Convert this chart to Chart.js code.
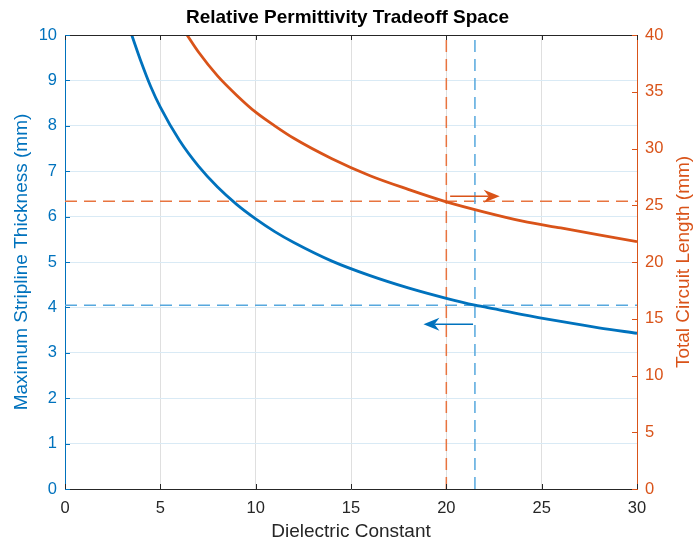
<!DOCTYPE html>
<html>
<head>
<meta charset="utf-8">
<script src="https://cdn.jsdelivr.net/npm/chart.js@4"></script>
<style>
  html, body { margin: 0; padding: 0; background: #fff; }
  canvas { display: block; }
</style>
</head>
<body>
<canvas id="myChart" width="695" height="546"></canvas>
<script>
// dielectric constant vs. stripline thickness (left) and circuit length (right)
const epsThick = [3.5, 4, 4.5, 5, 6, 7, 8, 9, 10, 11, 12, 14, 16, 18, 20, 21.5, 22, 24, 26, 28, 30];
const thickness = [10.0, 9.40, 8.86, 8.41, 7.68, 7.11, 6.65, 6.27, 5.95, 5.67, 5.43, 5.02, 4.70, 4.43, 4.20, 4.05, 4.01, 3.84, 3.69, 3.55, 3.43];

const epsLength = [6.4, 7, 8, 9, 10, 11, 12, 14, 16, 18, 20, 22, 24, 26, 28, 30];
const circuitLen = [40.0, 38.5, 36.4, 34.7, 33.2, 32.0, 30.9, 29.1, 27.6, 26.4, 25.3, 24.4, 23.6, 23.0, 22.4, 21.8];

// design point markers
const thickPick = { x: 21.5, y: 4.05 };
const lengthPick = { x: 20, y: 25.35 };
// arrows: [x from, x to, y]
const thickArrow = [21.4, 18.8, 3.63];
const lengthArrow = [20.2, 22.8, 25.8];

const xTicks = [0, 5, 10, 15, 20, 25, 30];
const rightTitle = 'Total Circuit Length (mm)';

const BLUE = '#0072BD';
const ORANGE = '#D95319';
const DARK = '#262626';
const FONT = "'Liberation Sans', Arial, Helvetica, sans-serif";
const TICK_SIZE = 16.5;
const LABEL_SIZE = 19;

const pts = (xs, ys) => xs.map((x, i) => ({ x: x, y: ys[i] }));

// inward tick marks, top border, right label and arrows
const decor = {
  id: 'decor',
  afterDatasetsDraw(chart) {
    const c = chart.ctx;
    const a = chart.chartArea;
    const sx = chart.scales.x, sy = chart.scales.y, sy1 = chart.scales.y1;
    c.save();
    c.lineWidth = 1;

    c.strokeStyle = DARK;
    c.beginPath();
    c.moveTo(a.left, a.top + 0.5);
    c.lineTo(a.right, a.top + 0.5);
    xTicks.forEach(v => {
      const px = Math.round(sx.getPixelForValue(v)) + 0.5;
      c.moveTo(px, a.bottom); c.lineTo(px, a.bottom - 5);
      c.moveTo(px, a.top); c.lineTo(px, a.top + 5);
    });
    c.stroke();

    c.strokeStyle = BLUE;
    c.beginPath();
    sy.ticks.forEach(t => {
      const py = Math.round(sy.getPixelForValue(t.value)) + 0.5;
      c.moveTo(a.left, py); c.lineTo(a.left + 5, py);
    });
    c.stroke();

    c.strokeStyle = ORANGE;
    c.beginPath();
    sy1.ticks.forEach(t => {
      const py = Math.round(sy1.getPixelForValue(t.value)) + 0.5;
      c.moveTo(a.right, py); c.lineTo(a.right - 5, py);
    });
    c.stroke();

    drawArrow(c, sx.getPixelForValue(thickArrow[0]), sx.getPixelForValue(thickArrow[1]),
      sy.getPixelForValue(thickArrow[2]), BLUE);
    drawArrow(c, sx.getPixelForValue(lengthArrow[0]), sx.getPixelForValue(lengthArrow[1]),
      sy1.getPixelForValue(lengthArrow[2]), ORANGE);

    // right axis label reads bottom-to-top like the left one
    c.translate(684, (a.top + a.bottom) / 2);
    c.rotate(-Math.PI / 2);
    c.fillStyle = ORANGE;
    c.font = LABEL_SIZE + 'px ' + FONT;
    c.textAlign = 'center';
    c.textBaseline = 'middle';
    c.fillText(rightTitle, 0, 0);
    c.restore();
  }
};

function drawArrow(c, x0, x1, y, color) {
  const dir = x1 > x0 ? 1 : -1;
  const len = 16, half = 6.5, notch = 5;
  c.strokeStyle = color;
  c.fillStyle = color;
  c.lineWidth = 1.5;
  c.beginPath();
  c.moveTo(x0, y);
  c.lineTo(x1 - dir * len + dir * notch, y);
  c.stroke();
  c.beginPath();
  c.moveTo(x1, y);
  c.lineTo(x1 - dir * len, y - half);
  c.lineTo(x1 - dir * (len - notch), y);
  c.lineTo(x1 - dir * len, y + half);
  c.closePath();
  c.fill();
}

const dashed = (data, axis, color) => ({
  data: data,
  yAxisID: axis,
  borderColor: color,
  borderWidth: 1.5,
  borderDash: [12, 7],
  pointRadius: 0,
  fill: false
});

new Chart(document.getElementById('myChart'), {
  type: 'line',
  data: {
    datasets: [
      {
        data: pts(epsThick, thickness),
        yAxisID: 'y',
        borderColor: BLUE,
        borderWidth: 2.8,
        pointRadius: 0,
        cubicInterpolationMode: 'monotone',
        fill: false
      },
      {
        data: pts(epsLength, circuitLen),
        yAxisID: 'y1',
        borderColor: ORANGE,
        borderWidth: 2.8,
        pointRadius: 0,
        cubicInterpolationMode: 'monotone',
        fill: false
      },
      dashed([{ x: 0, y: thickPick.y }, { x: 30, y: thickPick.y }], 'y', '#56a8de'),
      dashed([{ x: thickPick.x, y: 0 }, { x: thickPick.x, y: 10 }], 'y', '#56a8de'),
      dashed([{ x: 0, y: lengthPick.y }, { x: 30, y: lengthPick.y }], 'y1', '#e8743f'),
      dashed([{ x: lengthPick.x, y: 0 }, { x: lengthPick.x, y: 40 }], 'y1', '#e8743f')
    ]
  },
  options: {
    responsive: false,
    animation: false,
    layout: { padding: 0 },
    plugins: {
      legend: { display: false },
      tooltip: { enabled: false },
      title: {
        display: true,
        text: 'Relative Permittivity Tradeoff Space',
        color: '#000',
        font: { family: FONT, size: 19, weight: 'bold' },
        padding: { top: 6.6, bottom: 5.6 }
      }
    },
    scales: {
      x: {
        type: 'linear',
        min: 0,
        max: 30,
        afterFit(s) { s.height = 57; },
        ticks: { stepSize: 5, color: DARK, padding: 10, font: { family: FONT, size: TICK_SIZE } },
        grid: { color: '#dfdfdf', drawTicks: false },
        border: { color: DARK, width: 1 },
        title: {
          display: true,
          text: 'Dielectric Constant',
          color: DARK,
          font: { family: FONT, size: LABEL_SIZE },
          padding: { top: 0, bottom: 2.6 }
        }
      },
      y: {
        position: 'left',
        min: 0,
        max: 10,
        afterFit(s) { s.width = 65; },
        ticks: { stepSize: 1, color: BLUE, padding: 8, font: { family: FONT, size: TICK_SIZE } },
        grid: { color: '#d9eaf5', drawTicks: false },
        border: { color: BLUE, width: 1 },
        title: {
          display: true,
          text: 'Maximum Stripline Thickness (mm)',
          color: BLUE,
          font: { family: FONT, size: LABEL_SIZE },
          padding: { top: 10.6, bottom: 0 }
        }
      },
      y1: {
        position: 'right',
        min: 0,
        max: 40,
        afterFit(s) { s.width = 58; },
        ticks: { stepSize: 5, color: ORANGE, padding: 8, font: { family: FONT, size: TICK_SIZE } },
        grid: { display: false, drawTicks: false },
        border: { color: ORANGE, width: 1 },
        title: { display: false }
      }
    }
  },
  plugins: [decor]
});
</script>
</body>
</html>
